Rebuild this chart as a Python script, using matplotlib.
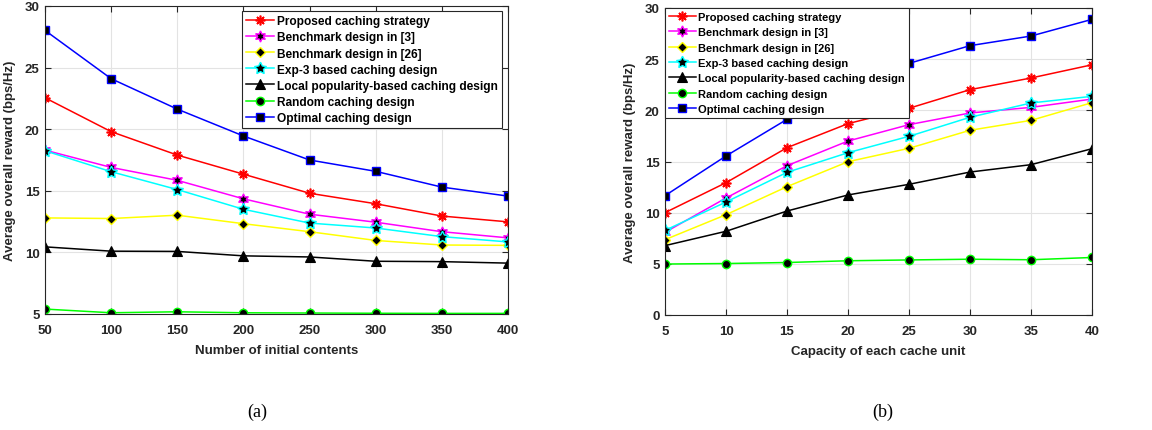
import matplotlib
matplotlib.use("Agg")
import matplotlib.pyplot as plt

plt.rcParams['font.family'] = ['Liberation Sans', 'DejaVu Sans']

# ---------------- data (a) ----------------
x_a = [50, 100, 150, 200, 250, 300, 350, 400]
a_proposed = [22.55, 19.8, 17.9, 16.35, 14.8, 13.95, 12.95, 12.48]
a_bench3 = [18.3, 16.9, 15.85, 14.35, 13.1, 12.45, 11.68, 11.18]
a_bench26 = [12.8, 12.75, 13.02, 12.33, 11.68, 10.97, 10.6, 10.57]
a_exp3 = [18.25, 16.55, 15.1, 13.5, 12.38, 11.98, 11.28, 10.85]
a_local = [10.45, 10.1, 10.08, 9.72, 9.63, 9.28, 9.25, 9.13]
a_random = [5.4, 5.1, 5.18, 5.1, 5.08, 5.06, 5.05, 5.05]
a_optimal = [28.02, 24.1, 21.63, 19.45, 17.5, 16.58, 15.3, 14.57]

# ---------------- data (b) ----------------
x_b = [5, 10, 15, 20, 25, 30, 35, 40]
b_proposed = [10.0, 12.93, 16.35, 18.7, 20.2, 22.02, 23.16, 24.45]
b_bench3 = [8.08, 11.43, 14.59, 17.0, 18.6, 19.74, 20.29, 21.1]
b_bench26 = [7.36, 9.8, 12.54, 14.98, 16.29, 18.05, 19.02, 20.75]
b_exp3 = [8.27, 11.04, 13.94, 15.86, 17.46, 19.32, 20.72, 21.37]
b_local = [6.78, 8.18, 10.16, 11.73, 12.77, 13.97, 14.69, 16.25]
b_random = [4.98, 5.03, 5.13, 5.3, 5.38, 5.45, 5.4, 5.62]
b_optimal = [11.66, 15.54, 19.12, 22.2, 24.59, 26.32, 27.26, 28.89]

labels = ['Proposed caching strategy', 'Benchmark design in [3]',
          'Benchmark design in [26]', 'Exp-3 based caching design',
          'Local popularity-based caching design', 'Random caching design',
          'Optimal caching design']

styles = [
    dict(color='#ff0000', marker=(8, 2, 0), mfc='#ff0000', mec='#ff0000', ms=7, mew=1.2),
    dict(color='#ff00ff', marker=(6, 1, 0), mfc='black', mec='#ff00ff', ms=8, mew=1.0),
    dict(color='#ffff00', marker='D', mfc='black', mec='#ffff00', ms=5, mew=1.0),
    dict(color='#00ffff', marker=(5, 1, 0), mfc='black', mec='#00ffff', ms=9, mew=1.0),
    dict(color='black', marker='^', mfc='black', mec='black', ms=7, mew=0.8),
    dict(color='#00ff00', marker='o', mfc='black', mec='#00ff00', ms=6, mew=1.0),
    dict(color='#0000ff', marker='s', mfc='black', mec='#0000ff', ms=6, mew=1.0),
]

fig = plt.figure(figsize=(11.52, 4.31), dpi=100)
axA = fig.add_axes([45/1152, 1-315/431, (508-45)/1152, (315-7)/431])
axB = fig.add_axes([665/1152, 1-316/431, (1092-665)/1152, (316-9)/431])

def draw(ax, x, series, xlabel, ylim, yticks, legend_loc, bbox, lsize, lspace, hlen):
    for y, st, lab in zip(series, styles, labels):
        ax.plot(x, y, lw=1.1, label=lab, **st)
    ax.set_xlim(x[0], x[-1])
    ax.set_ylim(*ylim)
    ax.set_xticks(x)
    ax.set_yticks(yticks)
    ax.grid(True, color='#e3e3e3', lw=0.8)
    ax.set_axisbelow(True)
    for s in ax.spines.values():
        s.set_color('#262626')
        s.set_linewidth(0.8)
    ax.tick_params(direction='in', length=4, labelsize=9.5, colors='#262626',
                   top=True, right=True)
    ax.tick_params(axis='x', pad=7)
    ax.tick_params(axis='y', pad=4)
    for t in ax.get_xticklabels() + ax.get_yticklabels():
        t.set_fontweight('bold')
    ax.set_xlabel(xlabel, fontsize=9.5, fontweight='bold', color='#262626', labelpad=6)
    ax.set_ylabel('Average overall reward (bps/Hz)', fontsize=9.5,
                  fontweight='bold', color='#262626', labelpad=6)
    leg = ax.legend(loc=legend_loc, bbox_to_anchor=bbox,
                    prop={'weight': 'bold', 'size': lsize}, frameon=True,
                    fancybox=False, edgecolor='#262626', framealpha=1,
                    handlelength=hlen, handletextpad=0.25, labelspacing=lspace,
                    borderpad=0.35, borderaxespad=0)
    leg.get_frame().set_linewidth(0.8)

draw(axA, x_a, [a_proposed, a_bench3, a_bench26, a_exp3, a_local, a_random, a_optimal],
     'Number of initial contents', (5, 30), [5, 10, 15, 20, 25, 30],
     'upper right', (0.988, 0.983), 8.6, 0.34, 2.4)
draw(axB, x_b, [b_proposed, b_bench3, b_bench26, b_exp3, b_local, b_random, b_optimal],
     'Capacity of each cache unit', (0, 30), [0, 5, 10, 15, 20, 25, 30],
     'upper left', (0.0, 1.0), 8.0, 0.48, 2.4)

fig.text(257/1152, 1-412/431, '(a)', fontsize=13, family='Liberation Serif',
         ha='center', va='center')
fig.text(883/1152, 1-412/431, '(b)', fontsize=13, family='Liberation Serif',
         ha='center', va='center')

fig.savefig('out.png', dpi=100)
